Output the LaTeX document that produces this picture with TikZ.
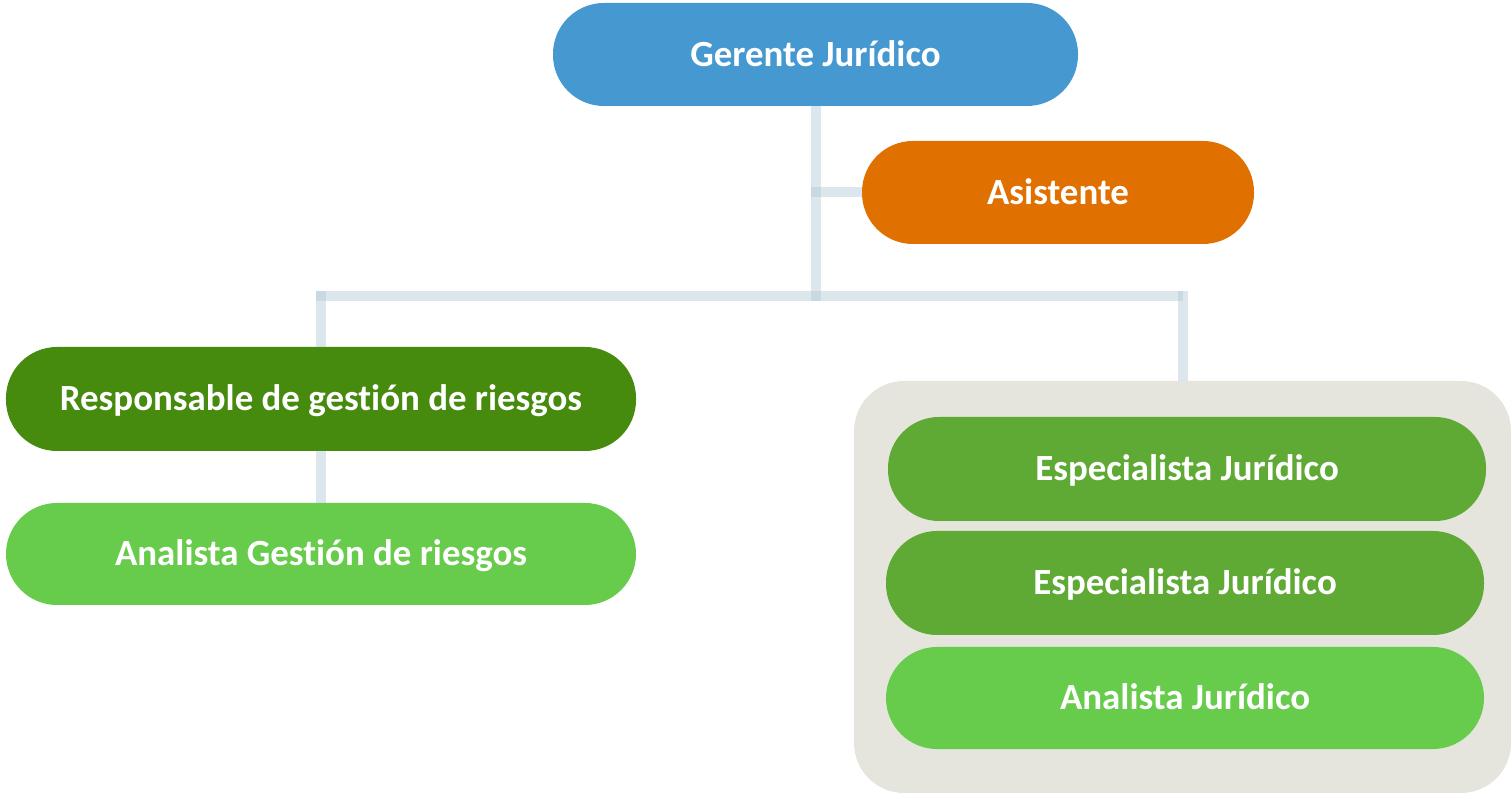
\documentclass[tikz,border=0pt]{standalone}
\usepackage{fontspec}
\setmainfont{Carlito}[Ligatures=NoCommon]
\usepackage{tikz}

\definecolor{gerblue}{RGB}{70,152,208}
\definecolor{asisorange}{RGB}{224,112,0}
\definecolor{darkgreen}{RGB}{70,138,14}
\definecolor{midgreen}{RGB}{94,170,53}
\definecolor{lightgreen}{RGB}{103,204,75}
\definecolor{boxgray}{RGB}{229,229,222}
\definecolor{linegray}{RGB}{176,200,214}

\begin{document}
\begin{tikzpicture}[
  pill/.style={rectangle,minimum height=2.06cm,rounded corners=1.02cm,
    text=white,font=\fontsize{21}{25}\selectfont\bfseries,inner sep=0pt,
    text height=16.8pt,text depth=3.3pt},
  conn/.style={draw=linegray,draw opacity=0.45,line width=0.2cm}]
  \useasboundingbox (0,0) rectangle (30.22,-15.86);

  \node[fill=boxgray,rounded corners=1cm,minimum width=13.14cm,minimum height=8.24cm] (grp) at (23.65,-11.74){};

  \node[pill,fill=gerblue,minimum width=10.5cm] (ger) at (16.31,-1.09){Gerente Jurídico};
  \node[pill,fill=asisorange,minimum width=7.84cm] (asis) at (21.16,-3.85){Asistente};

  \node[pill,fill=darkgreen,minimum width=12.6cm,minimum height=2.08cm] (resp) at (6.42,-7.98){Responsable de gestión de riesgos};
  \node[pill,fill=lightgreen,minimum width=12.6cm,minimum height=2.04cm] (anag) at (6.42,-11.08){Analista Gestión de riesgos};

  \node[pill,fill=midgreen,minimum width=11.96cm,minimum height=2.08cm] (esp1) at (23.74,-9.38){Especialista Jurídico};
  \node[pill,fill=midgreen,minimum width=11.96cm,minimum height=2.08cm] (esp2) at (23.70,-11.66){Especialista Jurídico};
  \node[pill,fill=lightgreen,minimum width=11.96cm,minimum height=2.04cm] (anaj) at (23.70,-13.96){Analista Jurídico};

  \coordinate (j) at (16.31,-5.92);

  \draw[conn] (ger.south) -- ([yshift=-0.1cm]j);
  \draw[conn] (asis.west) -- ([xshift=-0.1cm]asis.west -| ger.south);
  \draw[conn] ([xshift=-0.1cm]resp.north |- j) -- (grp.north |- j);
  \draw[conn] (resp.north) -- ([yshift=0.1cm]resp.north |- j);
  \draw[conn] (grp.north) -- ([yshift=0.1cm]grp.north |- j);
  \draw[conn] (resp.south) -- (anag.north);
\end{tikzpicture}
\end{document}
